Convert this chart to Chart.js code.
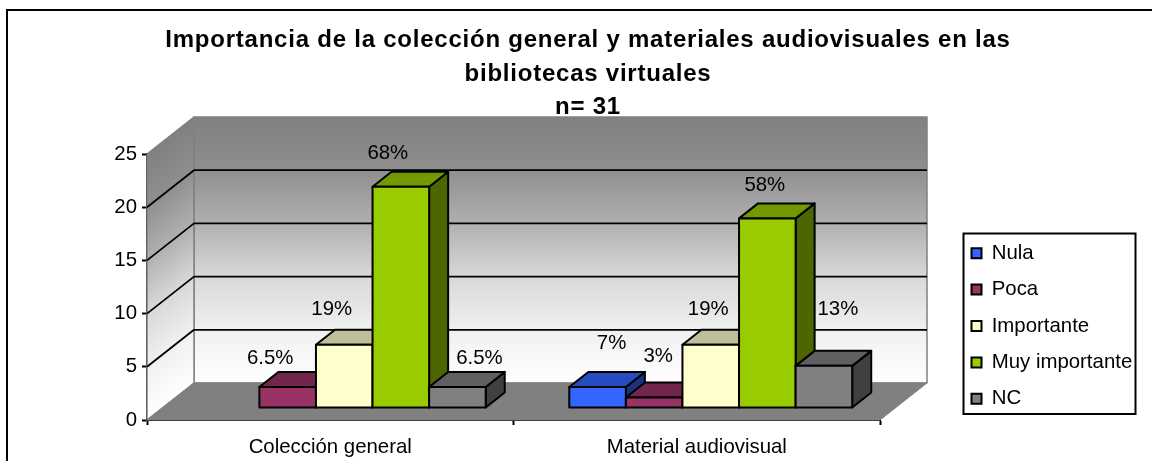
<!DOCTYPE html>
<html><head><meta charset="utf-8">
<style>html,body{margin:0;padding:0;background:#fff}canvas{display:block}</style>
<script src="https://cdn.jsdelivr.net/npm/chart.js@4"></script>
</head><body><canvas id="c" width="1152" height="461"></canvas>
<script>
const categories = ['Colección general', 'Material audiovisual'];
const seriesNames = ['Nula', 'Poca', 'Importante', 'Muy importante', 'NC'];
const nula = [0, 2];
const poca = [2, 1];
const importante = [6, 6];
const muyImportante = [21, 18];
const nc = [2, 4];
const nulaLabels = ['', '7%'];
const pocaLabels = ['6.5%', '3%'];
const importanteLabels = ['19%', '19%'];
const muyImportanteLabels = ['68%', '58%'];
const ncLabels = ['6.5%', '13%'];
const titleLines = ['Importancia de la colección general y materiales audiovisuales en las', 'bibliotecas virtuales', 'n= 31'];

// styles and hand placement of the labels (dx, dy from the top centre of each bar)
const FONT = '"Liberation Sans", Arial, sans-serif';
const TEXT_SIZE = 20.4;
const faces = ['#3366FF', '#993366', '#FFFFCC', '#99CC00', '#808080'];
const tops = ['#264DBF', '#73264D', '#BFBF99', '#739900', '#606060'];
const sides = ['#1A3380', '#4D1A33', '#808066', '#4D6600', '#404040'];
const allValues = [nula, poca, importante, muyImportante, nc];
const allLabels = [nulaLabels, pocaLabels, importanteLabels, muyImportanteLabels, ncLabels];
const nudges = [
  [[0, 0], [14, -44]],
  [[-17.5, -29], [4, -41]],
  [[-12.5, -35.7], [-2.5, -35.7]],
  [[-13, -33], [-2.5, -32.7]],
  [[22, -29], [14, -56.5]]
];
const WALL = {dx: 47, dy: -37};
const BAR_FRONT = {dx: 14, dy: -12};
const BAR_DEPTH = {dx: 19, dy: -15};
const BAR_PLANE_SCALE = 0.99;

function poly(ctx, pts, fill, stroke, lw) {
  ctx.beginPath();
  pts.forEach((p, i) => i ? ctx.lineTo(p[0], p[1]) : ctx.moveTo(p[0], p[1]));
  ctx.closePath();
  if (fill) { ctx.fillStyle = fill; ctx.fill(); }
  if (stroke) { ctx.strokeStyle = stroke; ctx.lineWidth = lw; ctx.lineJoin = 'round'; ctx.stroke(); }
}
function wallStops(g) {
  g.addColorStop(0, '#808080');
  g.addColorStop(0.2, '#8f8f8f');
  g.addColorStop(0.4, '#b0b0b0');
  g.addColorStop(0.6, '#d8d8d8');
  g.addColorStop(0.8, '#f0f0f0');
  g.addColorStop(1, '#ffffff');
  return g;
}

const scene3d = {
  id: 'scene3d',
  afterLayout(chart) {
    const t = chart.titleBlock; t.left = 24; t.right = 1152;
    if (!t._spaced) {
      const draw = t.draw;
      t.draw = function () {
        chart.ctx.letterSpacing = '0.77px';
        draw.apply(this, arguments);
        chart.ctx.letterSpacing = '0px';
      };
      t._spaced = true;
    }
    const l = chart.legend; l.left = 955.5; l.top = 227; l.right = l.left + l.width; l.bottom = l.top + l.height;
  },
  beforeDraw(chart) {
    const ctx = chart.ctx;
    ctx.save();
    ctx.strokeStyle = '#000'; ctx.lineWidth = 2;
    ctx.strokeRect(7, 10, 1300, 600);
    ctx.strokeRect(963.5, 233.5, 172, 180.5);
    ctx.restore();
  },
  beforeDatasetsDraw(chart) {
    const ctx = chart.ctx, a = chart.chartArea, y = chart.scales.y;
    const L = a.left, R = a.right, T = a.top, B = a.bottom, dx = WALL.dx, dy = WALL.dy;
    ctx.save();
    // back wall
    const back = wallStops(ctx.createLinearGradient(0, T + dy, 0, B + dy));
    poly(ctx, [[L + dx, T + dy], [R + dx, T + dy], [R + dx, B + dy], [L + dx, B + dy]], back, '#808080', 1.5);
    // side wall, gradient runs across the receding lines
    const h = B - T, k = h * dx / (dx * dx + dy * dy);
    const side = wallStops(ctx.createLinearGradient(L, T, L + k * (-dy), T + k * dx));
    poly(ctx, [[L, T], [L + dx, T + dy], [L + dx, B + dy], [L, B]], side, '#808080', 1.5);
    // floor
    poly(ctx, [[L, B], [R, B], [R + dx, B + dy], [L + dx, B + dy]], '#808080', '#808080', 1);
    // grid lines on the walls
    ctx.strokeStyle = '#000'; ctx.lineWidth = 1.8;
    y.ticks.forEach(t => {
      if (t.value === 0 || t.value === y.max) return;
      const py = y.getPixelForValue(t.value);
      ctx.beginPath();
      ctx.moveTo(L, py); ctx.lineTo(L + dx, py + dy); ctx.lineTo(R + dx, py + dy);
      ctx.stroke();
    });
    // bars: painted category by category, left to right
    const barTop = b => b.base + BAR_FRONT.dy - (b.base - b.y) * BAR_PLANE_SCALE;
    categories.forEach((_, j) => {
      allValues.forEach((vals, i) => {
        if (!vals[j]) return;
        const b = chart.getDatasetMeta(i).data[j];
        const x0 = b.x - b.width / 2 + BAR_FRONT.dx, x1 = b.x + b.width / 2 + BAR_FRONT.dx;
        const t = barTop(b), s = b.base + BAR_FRONT.dy;
        const ox = BAR_DEPTH.dx, oy = BAR_DEPTH.dy;
        poly(ctx, [[x1, t], [x1 + ox, t + oy], [x1 + ox, s + oy], [x1, s]], sides[i], '#000', 2);
        poly(ctx, [[x0, t], [x1, t], [x1 + ox, t + oy], [x0 + ox, t + oy]], tops[i], '#000', 2);
        poly(ctx, [[x0, t], [x1, t], [x1, s], [x0, s]], faces[i], '#000', 2);
      });
    });
    // data labels
    ctx.fillStyle = '#000'; ctx.font = TEXT_SIZE + 'px ' + FONT; ctx.textAlign = 'center'; ctx.textBaseline = 'middle';
    categories.forEach((_, j) => {
      allLabels.forEach((labs, i) => {
        if (!labs[j]) return;
        const b = chart.getDatasetMeta(i).data[j];
        ctx.fillText(labs[j], b.x + BAR_FRONT.dx + nudges[i][j][0], barTop(b) + nudges[i][j][1]);
      });
    });
    ctx.restore();
    return false;
  }
};

new Chart(document.getElementById('c'), {
  type: 'bar',
  data: {
    labels: categories,
    datasets: seriesNames.map((n, i) => ({
      label: n, data: allValues[i], backgroundColor: faces[i], borderColor: '#000', borderWidth: 2,
      barPercentage: 1, categoryPercentage: 0.772
    }))
  },
  plugins: [scene3d],
  options: {
    responsive: false, animation: false, events: [],
    layout: {padding: {left: 0, right: 272, top: 0, bottom: 0}},
    plugins: {
      tooltip: {enabled: false},
      title: {
        display: true, text: titleLines, color: '#000',
        font: {family: FONT, size: 24, weight: 'bold', lineHeight: 33.5 / 24},
        padding: {top: 24, bottom: 29.5}
      },
      legend: {
        position: 'chartArea', align: 'start',
        labels: {
          color: '#000', font: {family: FONT, size: TEXT_SIZE},
          boxWidth: 10, boxHeight: 10, padding: 16,
          generateLabels(chart) {
            return seriesNames.map((n, i) => ({text: n, fillStyle: faces[i], strokeStyle: '#000', lineWidth: 2, datasetIndex: i, fontColor: '#000'}));
          }
        }
      }
    },
    scales: {
      x: {
        afterFit(s) { s.height = 41; },
        border: {color: '#000', width: 2},
        grid: {drawOnChartArea: false, color: '#000', tickLength: 5, tickWidth: 2},
        ticks: {color: '#000', font: {family: FONT, size: TEXT_SIZE}, padding: 10, maxRotation: 0}
      },
      y: {
        min: 0, max: 25,
        afterFit(s) { s.width = 147; },
        border: {color: '#000', width: 2},
        grid: {drawOnChartArea: false, color: '#000', tickLength: 5, tickWidth: 2},
        ticks: {stepSize: 5, color: '#000', font: {family: FONT, size: TEXT_SIZE}, padding: 5}
      }
    }
  }
});
</script></body></html>
